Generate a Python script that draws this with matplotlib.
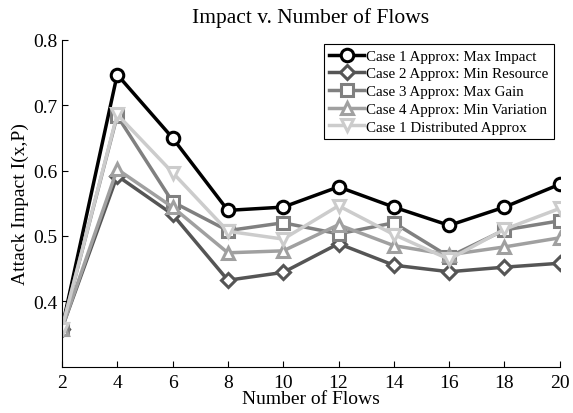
import matplotlib
matplotlib.use("Agg")
import matplotlib.pyplot as plt

flows = [2, 4, 6, 8, 10, 12, 14, 16, 18, 20]
case1 = [0.358, 0.747, 0.650, 0.539, 0.544, 0.575, 0.544, 0.516, 0.544, 0.579]
case2 = [0.358, 0.592, 0.533, 0.432, 0.444, 0.488, 0.455, 0.445, 0.452, 0.458]
case3 = [0.358, 0.684, 0.552, 0.508, 0.520, 0.503, 0.520, 0.468, 0.509, 0.523]
case4 = [0.358, 0.602, 0.544, 0.474, 0.477, 0.517, 0.485, 0.471, 0.483, 0.497]
case1d = [0.358, 0.686, 0.597, 0.507, 0.495, 0.546, 0.502, 0.464, 0.510, 0.542]

labels = ["Case 1 Approx: Max Impact", "Case 2 Approx: Min Resource",
          "Case 3 Approx: Max Gain", "Case 4 Approx: Min Variation",
          "Case 1 Distributed Approx"]
xticks = [2, 4, 6, 8, 10, 12, 14, 16, 18, 20]
yticks = [0.4, 0.5, 0.6, 0.7, 0.8]

plt.rcParams['font.family'] = ['Liberation Serif', 'DejaVu Serif']

fig = plt.figure(figsize=(5.73, 4.14), dpi=100)
ax = fig.add_axes([0.108, 0.111, 0.869, 0.790])

styles = [
    (case1, 'o', '#000000'),
    (case2, 'D', '#555555'),
    (case3, 's', '#808080'),
    (case4, '^', '#a0a0a0'),
    (case1d, 'v', '#cccccc'),
]
for (vals, m, c), lab in zip(styles, labels):
    ms = 9 if m != 'D' else 7.5
    ax.plot(flows, vals, marker=m, color=c, lw=2.5, ms=ms, mfc='white',
            mec=c, mew=2.2, label=lab)

ax.set_xlim(2, 20)
ax.set_ylim(0.299, 0.8)
ax.set_xticks(xticks)
ax.set_yticks(yticks)
ax.set_yticklabels([f"{v:.1f}" for v in yticks])
ax.tick_params(direction='in', labelsize=14, length=4, width=0.8)
ax.tick_params(axis='x', pad=5)
ax.tick_params(axis='y', pad=3)
for s in ['top', 'right']:
    ax.spines[s].set_visible(False)
for s in ['left', 'bottom']:
    ax.spines[s].set_linewidth(0.8)

ax.set_title("Impact v. Number of Flows", fontsize=15.5, pad=13)
ax.set_xlabel("Number of Flows", fontsize=14, labelpad=-1)
ax.set_ylabel("Attack Impact I(x,P)", fontsize=14, labelpad=3)

leg = ax.legend(loc='upper left', bbox_to_anchor=(324/573, 1 - 45/414),
                bbox_transform=fig.transFigure, fontsize=10.8, frameon=True,
                fancybox=False, edgecolor='black', framealpha=1,
                handlelength=2.3, handletextpad=0.15, labelspacing=0.28,
                borderpad=0.35, borderaxespad=0)
leg.get_frame().set_linewidth(0.8)

fig.savefig("out.png", dpi=100)
